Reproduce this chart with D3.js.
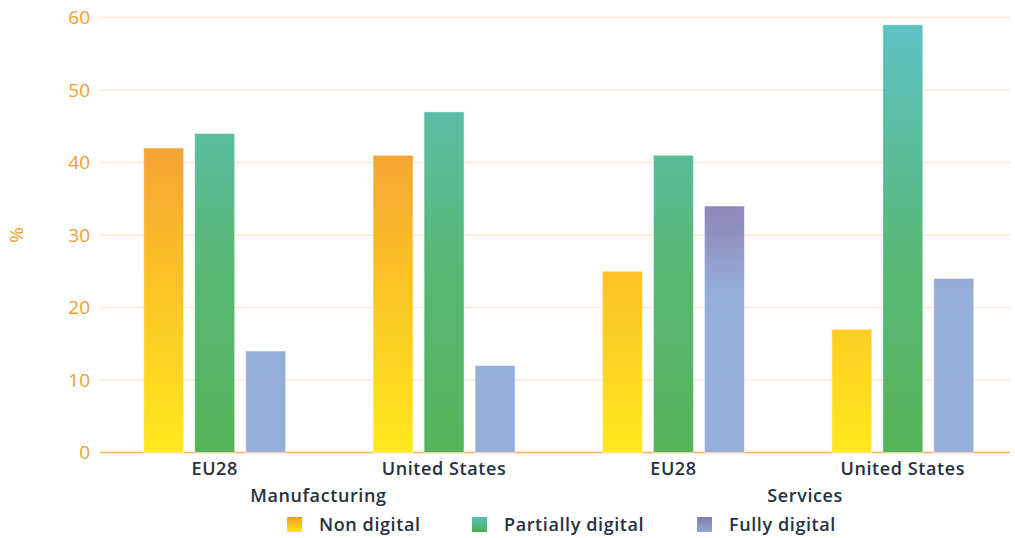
<!DOCTYPE html>
<html>
<head>
<meta charset="utf-8">
<script src="https://cdn.jsdelivr.net/npm/d3@7"></script>
<style>
    body { margin: 0; background: #fff; }
    svg { display: block; font-family: "Open Sans", sans-serif; }
    .tick-y { fill: #f39c2b; font-size: 19px; }
    .tick-x { fill: #27313d; font-size: 18px; font-weight: 600; letter-spacing: 0.6px; }
</style>
</head>
<body>
<div id="chart"></div>
<script>
// Data
const groups = ["EU28 M", "United States M", "EU28 S", "United States S"];
const groupLabels = ["EU28", "United States", "EU28", "United States"];
const sectors = ["Manufacturing", "Services"];
const series = ["Non digital", "Partially digital", "Fully digital"];
const nonDigital = [42, 41, 25, 17];
const partiallyDigital = [44, 47, 41, 59];
const fullyDigital = [14, 12, 34, 24];
const yTicks = [0, 10, 20, 30, 40, 50, 60];

const values = [nonDigital, partiallyDigital, fullyDigital];

const width = 1015;
const height = 538;
const margin = { top: 17.5, right: 5, bottom: 85.5, left: 100 };

const svg = d3.select('#chart').append('svg')
    .attr('width', width)
    .attr('height', height);

const yScale = d3.scaleLinear()
    .domain([0, 60])
    .range([height - margin.bottom, margin.top]);

const xOuter = d3.scaleBand()
    .domain(groups)
    .range([margin.left, 1017.5]);

const xInner = d3.scaleBand()
    .domain(series)
    .range([-71, 71])
    .paddingInner(0.216);

// gradients are in chart units, so taller bars reach further into the top colour
const gradientStops = [
    [[0, '#ffe812'], [25, '#fbbd1a'], [45, '#f39a2e']],
    [[0, '#4caf50'], [25, '#4fb46c'], [45, '#52b99c'], [60, '#56c0c4']],
    [[0, '#90aad8'], [22, '#90aad8'], [32, '#8885b6'], [60, '#857cae']]
];

const defs = svg.append('defs');
gradientStops.forEach((stops, i) => {
    const grad = defs.append('linearGradient')
        .attr('id', 'grad' + i)
        .attr('gradientUnits', 'userSpaceOnUse')
        .attr('x1', 0).attr('x2', 0)
        .attr('y1', yScale(0)).attr('y2', yScale(60));
    stops.forEach(s => {
        grad.append('stop')
            .attr('offset', s[0] / 60)
            .attr('stop-color', s[1]);
    });
    // legend swatch version
    const lg = defs.append('linearGradient')
        .attr('id', 'legend' + i)
        .attr('x1', 0).attr('x2', 0)
        .attr('y1', 1).attr('y2', 0);
    lg.append('stop').attr('offset', 0).attr('stop-color', stops[0][1]);
    lg.append('stop').attr('offset', 1).attr('stop-color', stops[stops.length - 1][1]);
});

// gridlines
svg.append('g')
    .selectAll('line')
    .data(yTicks)
    .enter()
    .append('line')
    .attr('x1', margin.left)
    .attr('x2', width - margin.right)
    .attr('y1', d => yScale(d))
    .attr('y2', d => yScale(d))
    .attr('stroke', d => d === 0 ? '#f7b559' : '#fde8d2')
    .attr('stroke-width', 1.5);

// y tick labels
svg.append('g')
    .selectAll('text')
    .data(yTicks)
    .enter()
    .append('text')
    .attr('class', 'tick-y')
    .attr('x', margin.left - 10)
    .attr('y', d => yScale(d))
    .attr('dy', '0.35em')
    .attr('text-anchor', 'end')
    .text(d => d);

svg.append('text')
    .attr('class', 'tick-y')
    .attr('transform', `translate(23, ${yScale(30)}) rotate(-90)`)
    .attr('text-anchor', 'middle')
    .attr('font-size', 18)
    .text('%');

// bars
const barGroups = svg.append('g')
    .selectAll('g')
    .data(groups)
    .enter()
    .append('g')
    .attr('transform', d => `translate(${xOuter(d) + xOuter.bandwidth() / 2}, 0)`);

barGroups.selectAll('rect')
    .data((d, gi) => series.map((s, si) => ({ series: s, si: si, value: values[si][gi] })))
    .enter()
    .append('rect')
    .attr('x', d => xInner(d.series))
    .attr('width', xInner.bandwidth())
    .attr('y', d => yScale(d.value))
    .attr('height', d => yScale(0) - yScale(d.value))
    .attr('fill', d => `url(#grad${d.si})`)
    .attr('fill-opacity', 0.95)
    .attr('stroke', '#ffffff')
    .attr('stroke-opacity', 0.5)
    .attr('stroke-width', 1);

// x labels
svg.append('g')
    .selectAll('text')
    .data(groups)
    .enter()
    .append('text')
    .attr('class', 'tick-x')
    .attr('x', d => xOuter(d) + xOuter.bandwidth() / 2)
    .attr('y', yScale(0) + 22)
    .attr('text-anchor', 'middle')
    .text((d, i) => groupLabels[i]);

// sector labels
const sectorOffset = [-11, 17];
svg.append('g')
    .selectAll('text')
    .data(sectors)
    .enter()
    .append('text')
    .attr('class', 'tick-x')
    .attr('x', (d, i) => (xOuter(groups[i * 2]) + xOuter(groups[i * 2 + 1]) + xOuter.bandwidth()) / 2 + sectorOffset[i])
    .attr('y', yScale(0) + 49)
    .attr('text-anchor', 'middle')
    .text(d => d);

// legend
const legendX = [287, 472, 697];
const legend = svg.append('g')
    .selectAll('g')
    .data(series)
    .enter()
    .append('g')
    .attr('transform', (d, i) => `translate(${legendX[i]}, 517)`);

legend.append('rect')
    .attr('width', 15)
    .attr('height', 15)
    .attr('fill', (d, i) => `url(#legend${i})`);

legend.append('text')
    .attr('class', 'tick-x')
    .attr('x', 32)
    .attr('y', 8)
    .attr('dy', '0.35em')
    .text(d => d);
</script>
</body>
</html>
